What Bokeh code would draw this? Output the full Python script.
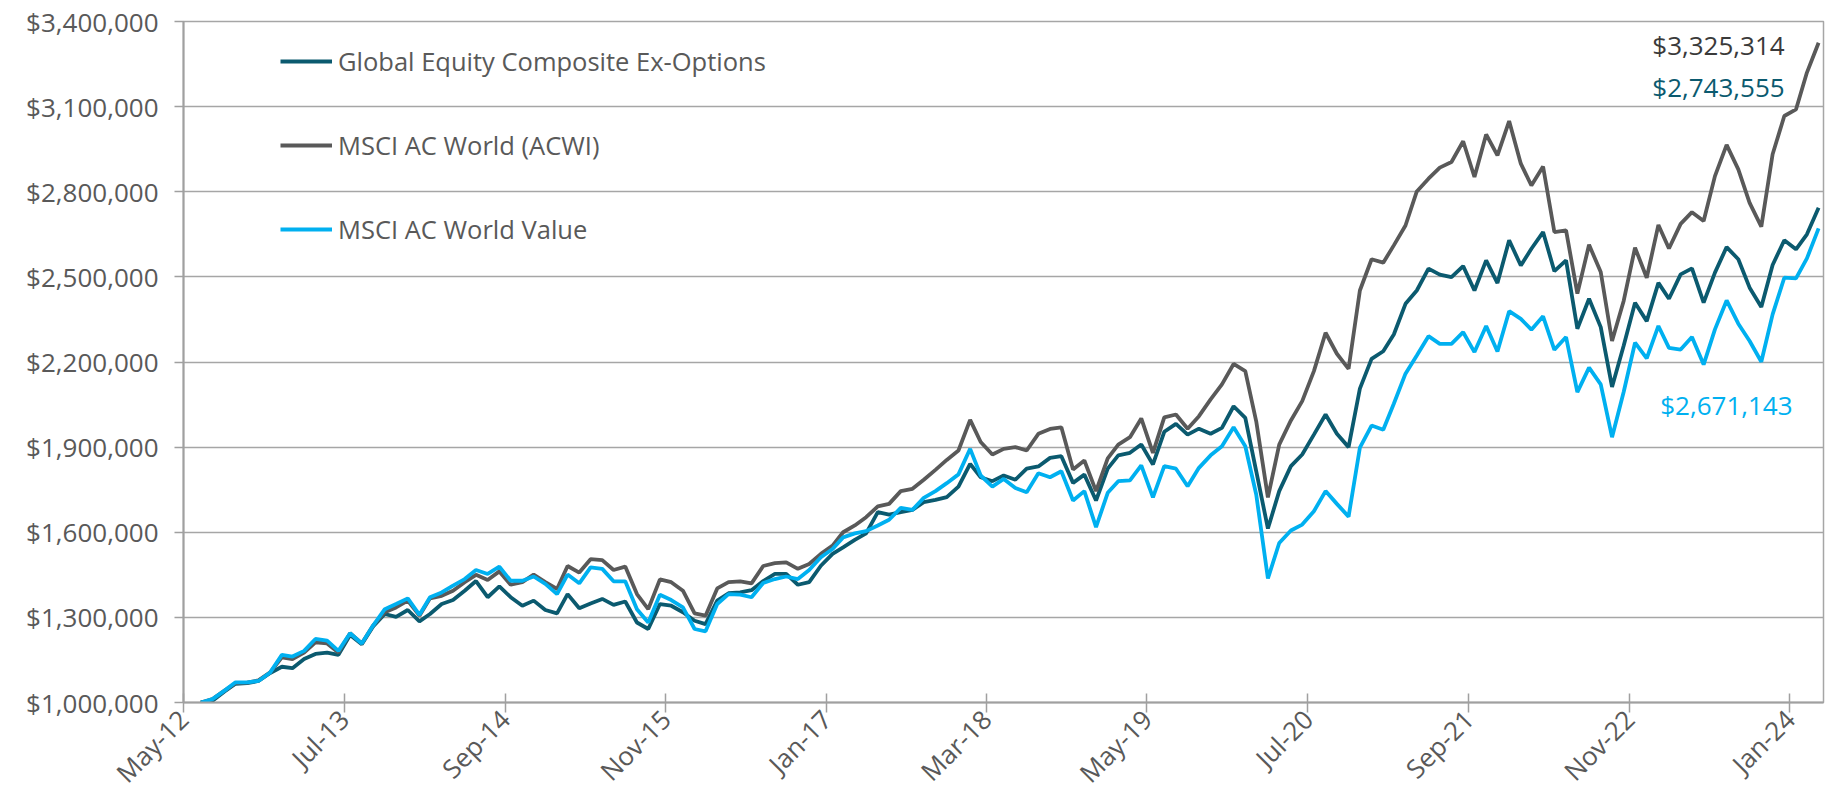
import math
from datetime import datetime
import pandas as pd
from bokeh.plotting import figure
from bokeh.models import (Range1d, FixedTicker, NumeralTickFormatter,
                          Legend, LegendItem, Label, ColumnDataSource)
from bokeh.embed import file_html
from bokeh.resources import INLINE

# ---------------- data (values in $ millions, month-end Jun-2012 .. Mar-2024) ----------------
composite = [
    1.000, 1.006, 1.038, 1.066, 1.068, 1.076, 1.104, 1.126, 1.121, 1.153,
    1.171, 1.176, 1.168, 1.238, 1.205, 1.268, 1.312, 1.302, 1.326, 1.286,
    1.312, 1.347, 1.361, 1.394, 1.428, 1.371, 1.409, 1.371, 1.341, 1.359,
    1.326, 1.314, 1.382, 1.332, 1.349, 1.365, 1.344, 1.356, 1.282, 1.259,
    1.347, 1.341, 1.318, 1.288, 1.276, 1.359, 1.385, 1.388, 1.396, 1.428,
    1.453, 1.453, 1.415, 1.424, 1.482, 1.524, 1.547, 1.573, 1.596, 1.671,
    1.662, 1.671, 1.679, 1.706, 1.714, 1.724, 1.761, 1.841, 1.794, 1.780,
    1.800, 1.785, 1.824, 1.832, 1.862, 1.868, 1.774, 1.803, 1.712, 1.824,
    1.871, 1.880, 1.909, 1.839, 1.954, 1.982, 1.944, 1.965, 1.947, 1.968,
    2.044, 2.003, 1.815, 1.613, 1.745, 1.833, 1.874, 1.944, 2.015, 1.947,
    1.900, 2.106, 2.211, 2.238, 2.297, 2.405, 2.452, 2.529, 2.508, 2.499,
    2.538, 2.452, 2.558, 2.478, 2.629, 2.540, 2.599, 2.658, 2.520, 2.558,
    2.317, 2.423, 2.323, 2.112, 2.258, 2.409, 2.344, 2.479, 2.423, 2.509,
    2.530, 2.409, 2.515, 2.605, 2.562, 2.462, 2.394, 2.542, 2.629, 2.597,
    2.650, 2.743555,
]
acwi = [
    1.000, 1.012, 1.041, 1.068, 1.070, 1.078, 1.106, 1.159, 1.153, 1.176,
    1.212, 1.208, 1.176, 1.244, 1.208, 1.271, 1.318, 1.335, 1.359, 1.306,
    1.367, 1.376, 1.394, 1.424, 1.450, 1.432, 1.462, 1.415, 1.424, 1.451,
    1.424, 1.400, 1.481, 1.458, 1.505, 1.502, 1.467, 1.479, 1.382, 1.329,
    1.434, 1.424, 1.394, 1.314, 1.306, 1.402, 1.424, 1.427, 1.420, 1.481,
    1.491, 1.494, 1.471, 1.488, 1.524, 1.553, 1.600, 1.624, 1.653, 1.691,
    1.700, 1.745, 1.753, 1.785, 1.820, 1.855, 1.888, 1.996, 1.918, 1.874,
    1.894, 1.900, 1.888, 1.947, 1.964, 1.970, 1.821, 1.853, 1.745, 1.860,
    1.909, 1.935, 2.001, 1.880, 2.005, 2.015, 1.965, 2.009, 2.068, 2.121,
    2.193, 2.168, 1.991, 1.723, 1.909, 1.994, 2.062, 2.168, 2.303, 2.229,
    2.176, 2.452, 2.562, 2.550, 2.611, 2.681, 2.801, 2.846, 2.885, 2.905,
    2.978, 2.852, 3.002, 2.928, 3.049, 2.899, 2.822, 2.889, 2.658, 2.664,
    2.441, 2.613, 2.517, 2.274, 2.416, 2.603, 2.497, 2.683, 2.600, 2.687,
    2.728, 2.697, 2.855, 2.965, 2.879, 2.761, 2.677, 2.932, 3.067, 3.090,
    3.220, 3.325314,
]
acwi_value = [
    1.000, 1.012, 1.041, 1.071, 1.071, 1.076, 1.106, 1.168, 1.162, 1.182,
    1.224, 1.218, 1.182, 1.244, 1.208, 1.271, 1.329, 1.347, 1.367, 1.309,
    1.371, 1.388, 1.412, 1.435, 1.467, 1.453, 1.479, 1.429, 1.429, 1.444,
    1.418, 1.382, 1.451, 1.420, 1.476, 1.471, 1.427, 1.427, 1.329, 1.282,
    1.380, 1.361, 1.335, 1.259, 1.251, 1.347, 1.382, 1.380, 1.371, 1.421,
    1.435, 1.444, 1.435, 1.467, 1.512, 1.541, 1.582, 1.596, 1.604, 1.624,
    1.644, 1.686, 1.679, 1.721, 1.745, 1.773, 1.804, 1.894, 1.800, 1.761,
    1.788, 1.756, 1.741, 1.808, 1.794, 1.815, 1.712, 1.745, 1.618, 1.739,
    1.780, 1.783, 1.836, 1.723, 1.833, 1.824, 1.762, 1.827, 1.871, 1.903,
    1.970, 1.903, 1.733, 1.437, 1.562, 1.606, 1.627, 1.674, 1.745, 1.700,
    1.655, 1.898, 1.976, 1.961, 2.053, 2.159, 2.223, 2.291, 2.264, 2.264,
    2.305, 2.235, 2.327, 2.237, 2.379, 2.352, 2.314, 2.361, 2.243, 2.288,
    2.094, 2.180, 2.121, 1.935, 2.095, 2.268, 2.213, 2.327, 2.250, 2.244,
    2.288, 2.191, 2.315, 2.417, 2.335, 2.274, 2.201, 2.368, 2.497, 2.495,
    2.565, 2.671143,
]
series_names = ["Global Equity Composite Ex-Options", "MSCI AC World (ACWI)", "MSCI AC World Value"]
tick_labels = ["May-12", "Jul-13", "Sep-14", "Nov-15", "Jan-17", "Mar-18",
               "May-19", "Jul-20", "Sep-21", "Nov-22", "Jan-24"]
y_ticks = [1000000, 1300000, 1600000, 1900000, 2200000, 2500000, 2800000, 3100000, 3400000]

dates = pd.date_range("2012-06-30", periods=len(composite), freq="ME")

COL_DARK = "#0b5a6f"
COL_GRAY = "#595959"
COL_BLUE = "#00b0f0"
TXT = "#595959"
FONT = "Open Sans"

src = ColumnDataSource(dict(
    date=dates,
    comp=[v * 1e6 for v in composite],
    acwi=[v * 1e6 for v in acwi],
    val=[v * 1e6 for v in acwi_value],
))

x_start = datetime(2012, 5, 15)
x_end = datetime(2024, 4, 13)

p = figure(frame_width=1640, frame_height=681, x_axis_type="datetime",
           output_backend="svg", toolbar_location=None,
           x_range=Range1d(x_start, x_end), y_range=Range1d(1000000, 3400000),
           min_border_left=183, min_border_right=5, min_border_top=21, min_border_bottom=98)

r_comp = p.line("date", "comp", source=src, line_color=COL_DARK, line_width=3.8)
r_acwi = p.line("date", "acwi", source=src, line_color=COL_GRAY, line_width=3.8)
r_val = p.line("date", "val", source=src, line_color=COL_BLUE, line_width=3.8)

# x ticks: mid-month of every 14th month starting May-12
tick_ms = []
for k in range(len(tick_labels)):
    m = 4 + 14 * k  # months since Jan 2012 (0-based)
    d = datetime(2012 + m // 12, m % 12 + 1, 15)
    tick_ms.append(pd.Timestamp(d).value / 1e6)
p.xaxis.ticker = FixedTicker(ticks=tick_ms)
p.xaxis.major_label_overrides = {t: lab for t, lab in zip(tick_ms, tick_labels)}
p.xaxis.major_label_orientation = math.pi / 4
p.yaxis.ticker = FixedTicker(ticks=y_ticks)
p.yaxis.formatter = NumeralTickFormatter(format="$0,0")

for ax in (p.xaxis, p.yaxis):
    ax.axis_line_color = "#a0a0a0"
    ax.axis_line_width = 2
    ax.major_tick_line_color = "#a0a0a0"
    ax.major_tick_line_width = 1.5
    ax.minor_tick_line_color = None
    ax.major_label_text_font = FONT
    ax.major_label_text_color = TXT
p.yaxis.major_label_text_font_size = "26px"
p.xaxis.major_label_text_font_size = "26px"
p.xaxis.major_tick_in = 9
p.xaxis.major_tick_out = 10
p.yaxis.major_tick_in = 0
p.yaxis.major_tick_out = 9
p.yaxis.major_label_standoff = 16
p.xaxis.major_label_standoff = 2

p.xgrid.grid_line_color = None
p.ygrid.grid_line_color = "#a6a6a6"
p.ygrid.grid_line_width = 1.5
p.outline_line_color = "#a6a6a6"
p.outline_line_width = 1.5
p.background_fill_color = "white"
p.border_fill_color = "white"

legend = Legend(items=[LegendItem(label=series_names[0], renderers=[r_comp]),
                       LegendItem(label=series_names[1], renderers=[r_acwi]),
                       LegendItem(label=series_names[2], renderers=[r_val])],
                location=(97, 456), orientation="vertical",
                glyph_width=52, glyph_height=30, label_height=30, spacing=50,
                padding=0, margin=0, label_standoff=6,
                label_text_font=FONT, label_text_font_size="25.5px", label_text_color=TXT,
                border_line_color=None, background_fill_alpha=0)
p.add_layout(legend)

def money(v):
    return "${:,}".format(int(round(v * 1e6)))

p.add_layout(Label(x=datetime(2024, 1, 1), y=3316000, text=money(acwi[-1]),
                   text_align="right", text_baseline="middle", text_font=FONT,
                   text_font_size="26px", text_color="#3a3a3a"))
p.add_layout(Label(x=datetime(2024, 1, 1), y=3168000, text=money(composite[-1]),
                   text_align="right", text_baseline="middle", text_font=FONT,
                   text_font_size="26px", text_color=COL_DARK))
p.add_layout(Label(x=datetime(2024, 1, 22), y=2048000, text=money(acwi_value[-1]),
                   text_align="right", text_baseline="middle", text_font=FONT,
                   text_font_size="26px", text_color=COL_BLUE))

open("out.html", "w").write(file_html(p, INLINE))
